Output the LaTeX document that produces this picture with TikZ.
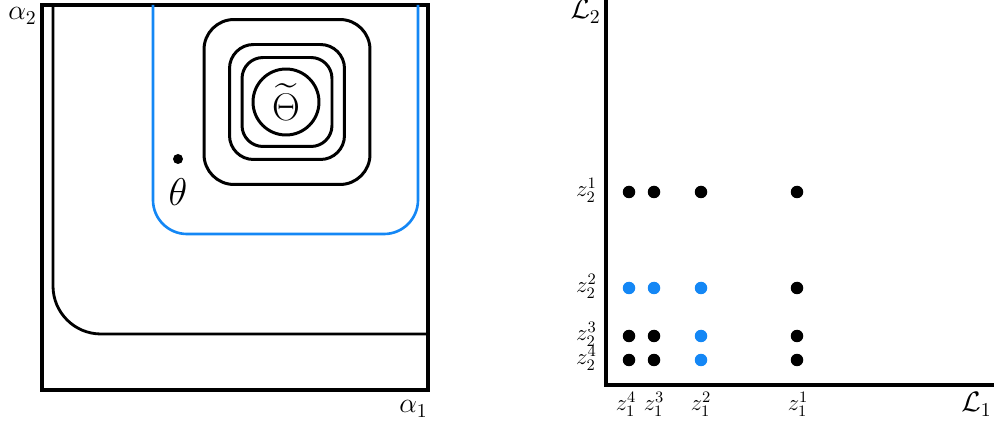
\RequirePackage{fix-cm}
\documentclass[tikz,border=0pt]{standalone}
\usepackage{amsmath,amssymb}
\usepackage{tikz}
\usetikzlibrary{positioning,calc}
\definecolor{frontblue}{RGB}{20,135,245}

\begin{document}
\begin{tikzpicture}[
    x=0.02cm, y=-0.02cm,
    frame_line/.style={draw=black, line width=1.9pt},
    level_box/.style={draw=black, line width=1.7pt, rounded corners=#1, inner sep=0pt},
    level_ring/.style={draw=black, line width=1.7pt, circle, inner sep=0pt, minimum size=1.32cm},
    blue_line/.style={draw=frontblue, line width=1.5pt, rounded corners=0.68cm},
    axis_line/.style={draw=black, line width=2.4pt},
    dot/.style={circle, fill=black, inner sep=0pt, minimum size=0.25cm},
    blue_dot/.style={dot, fill=frontblue},
    big_lbl/.style={font=\fontsize{16}{18}\selectfont, inner sep=0pt},
    greek_lbl/.style={font=\fontsize{22}{24}\selectfont, inner sep=0pt},
    z_lbl/.style={font=\fontsize{13}{15}\selectfont, inner sep=0pt}
]
\useasboundingbox (0,0) rectangle (994,425);

% PARAMETER SPACE
\coordinate (fr_nw) at (42,5);
\coordinate (fr_se) at (428,390);
\draw[frame_line] (fr_nw) rectangle (fr_se);

\coordinate (feas_top) at (53,5);
\coordinate (feas_end) at (428,334);
\draw[line width=1.6pt, rounded corners=0.96cm] (feas_top) |- (feas_end);

\coordinate (blue_l) at (153,5);
\coordinate (blue_br) at (418,234);
\coordinate (blue_r) at (418,5);
\draw[blue_line] (blue_l) |- (blue_br) -- (blue_r);

\node[level_box=0.6cm, minimum width=3.32cm, minimum height=3.3cm] (lev1) at (287,102) {};
\node[level_box=0.48cm, minimum width=2.3cm, minimum height=2.3cm] (lev2) at (287,102) {};
\node[level_box=0.42cm, minimum width=1.8cm, minimum height=1.78cm] (lev3) at (287,102) {};
\node[level_ring] (lev4) at (286,102) {};
\node[greek_lbl] (theta_opt) at (lev4) {$\widetilde{\Theta}$};

\node[dot, minimum size=0.2cm] (theta_pt) at (178,159) {};
\node[greek_lbl, below=0.27cm of theta_pt] (theta_lbl) {$\theta$};

\node[big_lbl, anchor=base west] (alpha2) at (8,20) {$\alpha_2$};
\node[big_lbl, anchor=base east] (alpha1) at (428,413) {$\alpha_1$};

% OBJECTIVE SPACE
\coordinate (ax_top) at (606,-5);
\coordinate (ax_right) at (1000,385);
\draw[axis_line] (ax_top) |- (ax_right);

\node[big_lbl, anchor=base east] (loss2) at (601,19) {$\mathcal{L}_2$};
\node[big_lbl, anchor=base west] (loss1) at (961,412) {$\mathcal{L}_1$};

% grid of points
\node[dot] (pt_4_1) at (629,192) {};
\node[dot] (pt_3_1) at (654,192) {};
\node[dot] (pt_2_1) at (701,192) {};
\node[dot] (pt_1_1) at (797,192) {};

\node[blue_dot] (pt_4_2) at (629,288) {};
\node[blue_dot] (pt_3_2) at (654,288) {};
\node[blue_dot] (pt_2_2) at (701,288) {};
\node[dot] (pt_1_2) at (797,288) {};

\node[dot] (pt_4_3) at (629,336) {};
\node[dot] (pt_3_3) at (654,336) {};
\node[blue_dot] (pt_2_3) at (701,336) {};
\node[dot] (pt_1_3) at (797,336) {};

\node[dot] (pt_4_4) at (629,360) {};
\node[dot] (pt_3_4) at (654,360) {};
\node[blue_dot] (pt_2_4) at (701,360) {};
\node[dot] (pt_1_4) at (797,360) {};

% tick labels
\node[z_lbl, anchor=east] (z2_1) at (597,190) {$z_2^1$};
\node[z_lbl, anchor=east] (z2_2) at (597,286) {$z_2^2$};
\node[z_lbl, anchor=east] (z2_3) at (597,334) {$z_2^3$};
\node[z_lbl, anchor=east] (z2_4) at (597,358) {$z_2^4$};

\node[z_lbl] (z1_4) at (626,404) {$z_1^4$};
\node[z_lbl] (z1_3) at (654,404) {$z_1^3$};
\node[z_lbl] (z1_2) at (701,404) {$z_1^2$};
\node[z_lbl] (z1_1) at (798,404) {$z_1^1$};

\end{tikzpicture}
\end{document}
